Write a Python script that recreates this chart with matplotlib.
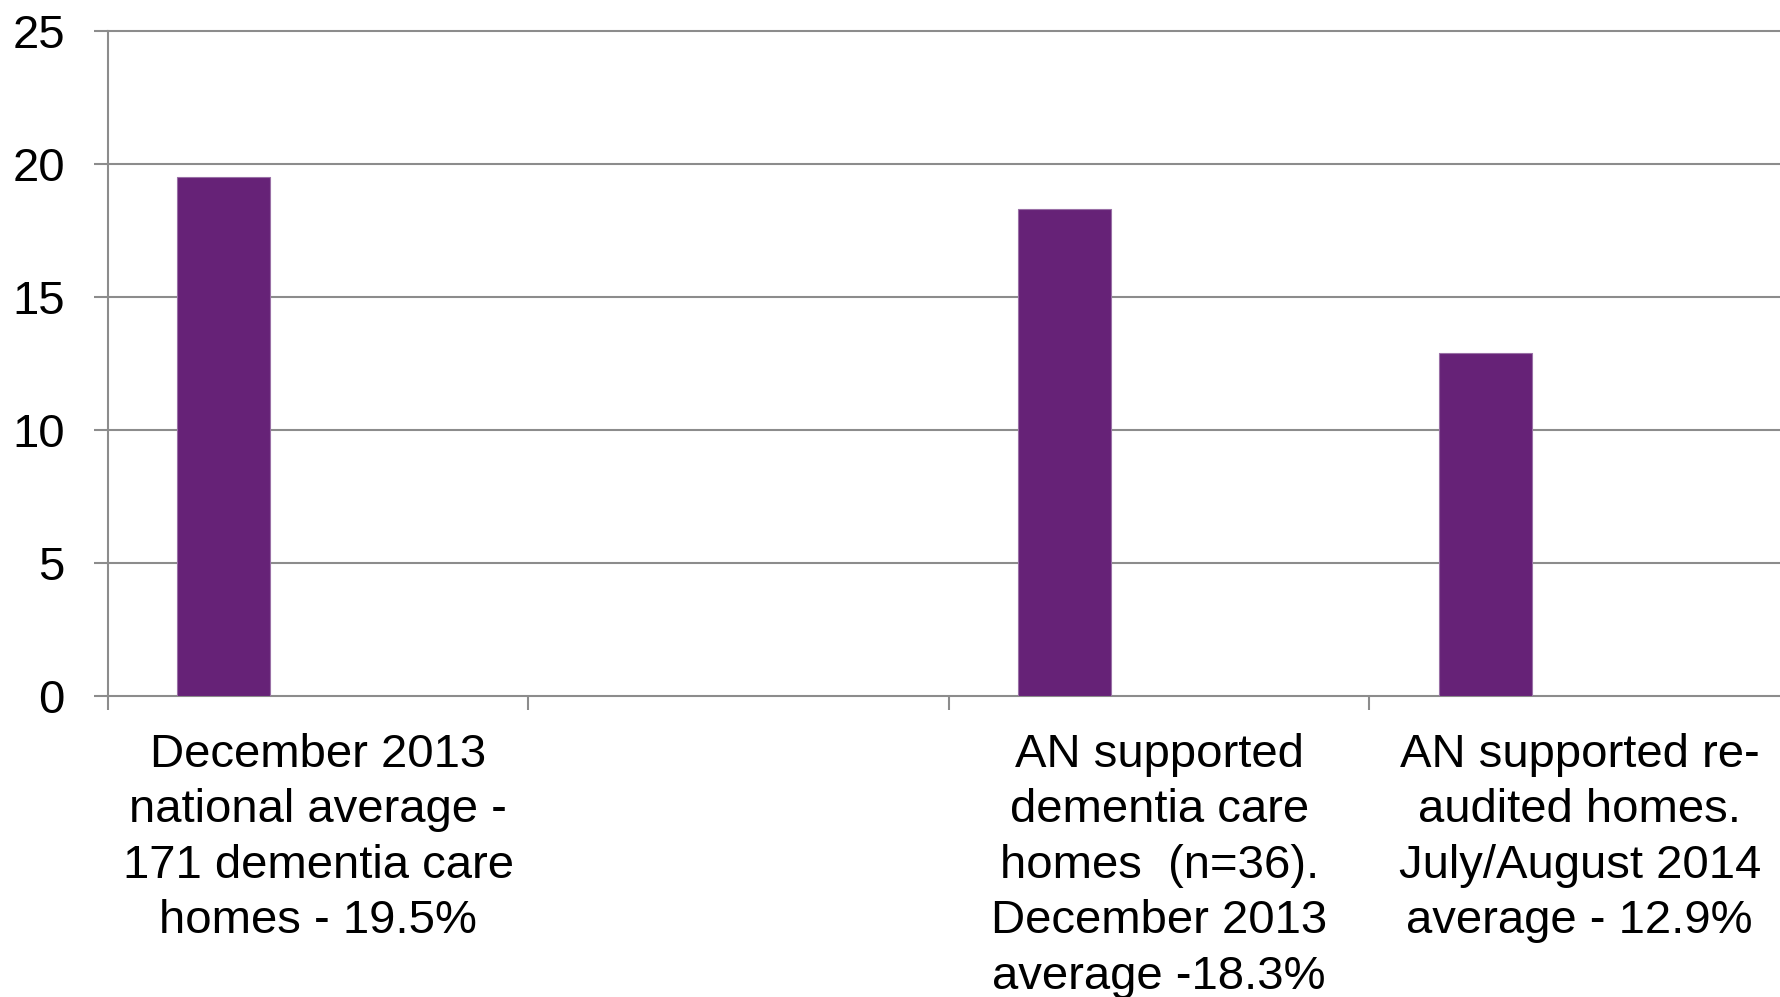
import matplotlib
matplotlib.use("Agg")
import matplotlib.pyplot as plt

categories = [
    "December 2013\nnational average -\n171 dementia care\nhomes - 19.5%",
    "",
    "AN supported\ndementia care\nhomes  (n=36).\nDecember 2013\naverage -18.3%",
    "AN supported re-\naudited homes.\nJuly/August 2014\naverage - 12.9%",
]
values = [19.5, None, 18.3, 12.9]
yticks = [0, 5, 10, 15, 20, 25]

plt.rcParams['font.family'] = ['Liberation Sans', 'DejaVu Sans']

W, H = 1781, 997
fig = plt.figure(figsize=(W / 100, H / 100), dpi=100)
left, right, top, bottom = 108, 1781, 31, 696
ax = fig.add_axes([left / W, 1 - bottom / H, (right - left) / W, (bottom - top) / H])

cat_w = 420.5
bar_w = 93 / cat_w
offset = -bar_w - 1.5 / cat_w
xs = [i + offset for i, v in enumerate(values) if v is not None]
vs = [v for v in values if v is not None]
ax.bar(xs, vs, width=bar_w, color="#662277", edgecolor="#9a70a6", linewidth=0.8, zorder=3)

ax.set_xlim(-0.5, -0.5 + (right - left) / cat_w)
ax.set_ylim(0, 25)
ax.set_yticks(yticks)
ax.set_yticklabels([str(t) for t in yticks])

grid_c = "#8c8c8c"
for t in yticks:
    ax.axhline(t, color=grid_c, linewidth=1.5, zorder=1, clip_on=False)

for s in ["top", "right", "bottom"]:
    ax.spines[s].set_visible(False)
ax.spines["left"].set_color(grid_c)
ax.spines["left"].set_linewidth(1.5)

# x ticks at category boundaries
ax.set_xticks([i - 0.5 for i in range(len(categories))])
ax.set_xticklabels([])
ax.tick_params(axis="x", length=10, width=1.5, color=grid_c, direction="out")
ax.tick_params(axis="y", length=10, width=1.5, color=grid_c, direction="out",
               labelsize=34, pad=21)

for i, lab in enumerate(categories):
    if lab:
        ax.text(i, -1.38, lab, ha="center", va="top", fontsize=34,
                linespacing=1.34, transform=ax.transData, clip_on=False)

fig.savefig("out.png", dpi=100, facecolor="white")
